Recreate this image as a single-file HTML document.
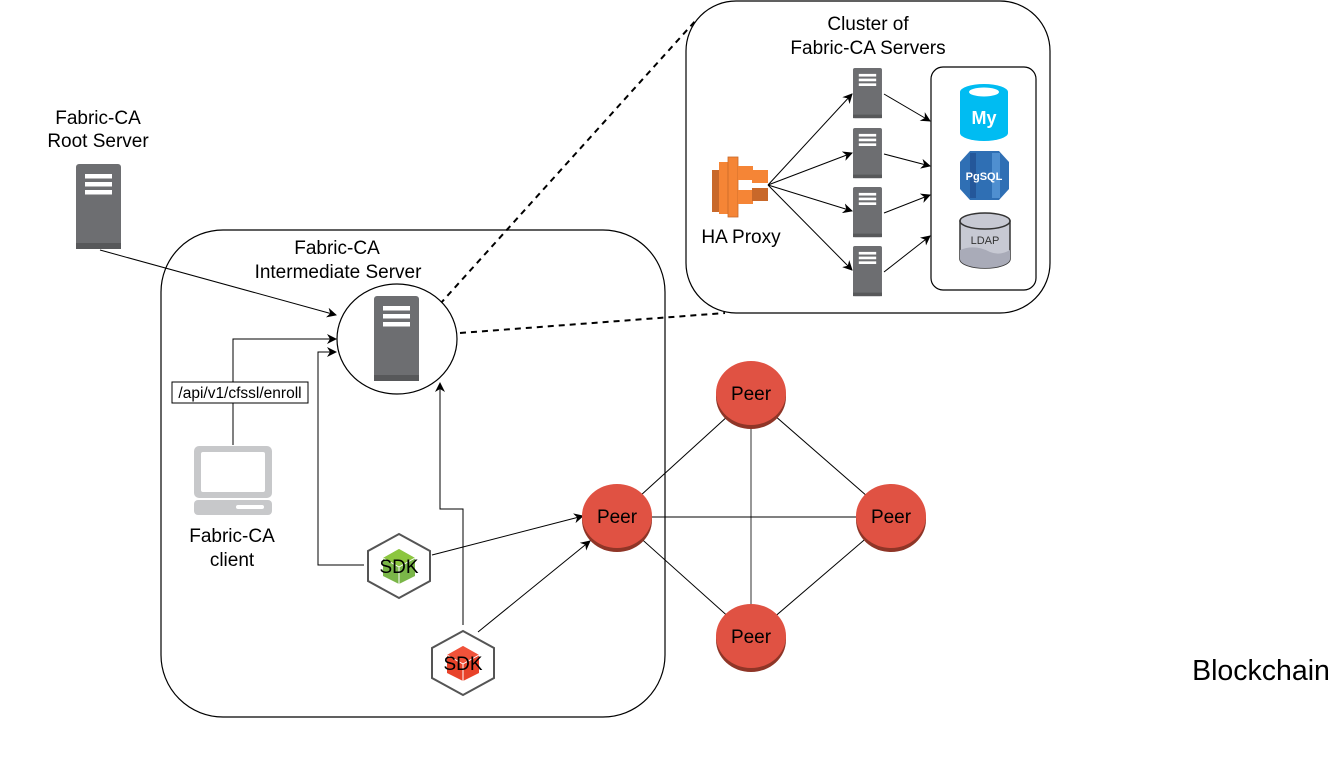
<!DOCTYPE html>
<html><head><meta charset="utf-8"><style>
html,body{margin:0;padding:0;background:#fff}
svg{display:block}
text{font-family:"Liberation Sans",Arial,sans-serif;fill:#000}
</style></head><body>
<svg width="1332" height="762" viewBox="0 0 1332 762" xmlns="http://www.w3.org/2000/svg">
<defs>
<marker id="ar" viewBox="0 0 10 10" refX="9" refY="5" markerWidth="10" markerHeight="10" orient="auto" markerUnits="userSpaceOnUse">
<path d="M0,0 L10,5 L0,10 L3,5 z" fill="#000"/></marker>
<g id="srv">
<rect x="0" y="0" width="45" height="85" rx="3" fill="#6d6e71"/>
<rect x="0" y="79" width="45" height="6" fill="#57585a"/>
<rect x="9" y="10" width="27" height="4.5" fill="#fff"/>
<rect x="9" y="18" width="27" height="4.5" fill="#fff"/>
<rect x="9" y="26" width="27" height="4.5" fill="#fff"/>
</g>
<g id="peer">
<ellipse cx="0" cy="4" rx="35" ry="32" fill="#8f3527"/>
<ellipse cx="0" cy="0" rx="35" ry="32" fill="#e05243"/>
<text x="0" y="7" font-size="19" text-anchor="middle">Peer</text>
</g>
</defs>

<rect x="161" y="230" width="504" height="487" rx="62" fill="none" stroke="#000" stroke-width="1.2"/>
<rect x="686" y="1" width="364" height="312" rx="50" fill="#fff" stroke="#000" stroke-width="1.2"/>
<rect x="931" y="67" width="105" height="223" rx="12" fill="none" stroke="#000" stroke-width="1.2"/>

<text x="98" y="124" font-size="19" text-anchor="middle">Fabric-CA</text>
<text x="98" y="147" font-size="19" text-anchor="middle">Root Server</text>
<text x="337" y="254" font-size="19" text-anchor="middle">Fabric-CA</text>
<text x="338" y="278" font-size="19" text-anchor="middle">Intermediate Server</text>
<text x="868" y="30" font-size="19" text-anchor="middle">Cluster of</text>
<text x="868" y="54" font-size="19" text-anchor="middle">Fabric-CA Servers</text>
<text x="741" y="243" font-size="19" text-anchor="middle">HA Proxy</text>
<text x="232" y="542" font-size="19" text-anchor="middle">Fabric-CA</text>
<text x="232" y="566" font-size="19" text-anchor="middle">client</text>
<text x="1261" y="680" font-size="28.5" text-anchor="middle">Blockchain</text>

<use href="#srv" x="76" y="164"/>
<line x1="100" y1="250" x2="336" y2="315" stroke="#000" marker-end="url(#ar)"/>

<line x1="440" y1="304" x2="697" y2="19" stroke="#000" stroke-width="2" stroke-dasharray="6,5"/>
<line x1="460" y1="333" x2="725" y2="313" stroke="#000" stroke-width="2" stroke-dasharray="6,5"/>

<ellipse cx="397" cy="339" rx="60" ry="55" fill="#fff" stroke="#000" stroke-width="1.2"/>
<use href="#srv" x="374" y="296"/>

<polyline points="233,445 233,339 336,339" fill="none" stroke="#000" marker-end="url(#ar)"/>
<rect x="172" y="382" width="136" height="21" fill="#fff" stroke="#000"/>
<text x="240" y="398" font-size="15.5" text-anchor="middle">/api/v1/cfssl/enroll</text>

<rect x="194" y="446" width="78" height="52" rx="5" fill="#c7c8ca"/>
<rect x="201" y="452" width="64" height="40" rx="2" fill="#fff"/>
<rect x="194" y="500" width="78" height="15" rx="4" fill="#c7c8ca"/>
<rect x="236" y="505" width="28" height="4" rx="2" fill="#fff"/>

<polyline points="364,565 318,565 318,352 336,352" fill="none" stroke="#000" marker-end="url(#ar)"/>
<polyline points="463,625 463,509 440,509 440,383" fill="none" stroke="#000" marker-end="url(#ar)"/>
<line x1="432" y1="555" x2="583" y2="516" stroke="#000" marker-end="url(#ar)"/>
<line x1="478" y1="632" x2="590" y2="541" stroke="#000" marker-end="url(#ar)"/>

<g transform="translate(399,566)">
<polygon points="0,-17 16,-8 16,10 0,18 -16,10 -16,-8" fill="#7ab648"/>
<polygon points="0,-17 16,-8 0,1 -16,-8" fill="#8cc63f"/>
<path d="M0,1 L0,32 M0,1 L16,-8 M0,1 L-16,-8" stroke="#fff" stroke-width="1"/>
<polygon points="0,-32 31,-15 31,15 0,32 -31,15 -31,-15" fill="none" stroke="#555" stroke-width="2"/>
<text x="0" y="7" font-size="19" text-anchor="middle">SDK</text>
</g>
<g transform="translate(463,663)">
<polygon points="0,-17 16,-8 16,10 0,18 -16,10 -16,-8" fill="#e8432a"/>
<polygon points="0,-17 16,-8 0,1 -16,-8" fill="#f0523a"/>
<path d="M0,1 L0,32 M0,1 L16,-8 M0,1 L-16,-8" stroke="#fff" stroke-width="1"/>
<polygon points="0,-32 31,-15 31,15 0,32 -31,15 -31,-15" fill="none" stroke="#555" stroke-width="2"/>
<text x="0" y="7" font-size="19" text-anchor="middle">SDK</text>
</g>

<g stroke="#000" stroke-width="1">
<line x1="751" y1="395" x2="617" y2="517"/>
<line x1="751" y1="395" x2="891" y2="517"/>
<line x1="751" y1="395" x2="751" y2="637" stroke="#777" stroke-width="1.5"/>
<line x1="617" y1="517" x2="891" y2="517"/>
<line x1="617" y1="517" x2="751" y2="637"/>
<line x1="891" y1="517" x2="751" y2="637"/>
</g>
<use href="#peer" x="751" y="393"/>
<use href="#peer" x="617" y="516"/>
<use href="#peer" x="891" y="516"/>
<use href="#peer" x="751" y="636"/>

<g>
<rect x="712" y="170" width="8" height="42" fill="#c8682a"/>
<rect x="719" y="162" width="10" height="52" fill="#f58536"/>
<rect x="728" y="157" width="10" height="60" fill="#f58536" stroke="#c8682a" stroke-width="0.8"/>
<rect x="738" y="166" width="15" height="14" fill="#f58536"/>
<rect x="738" y="190" width="15" height="14" fill="#f58536"/>
<rect x="752" y="170" width="16" height="13" fill="#f58536"/>
<rect x="752" y="188" width="16" height="13" fill="#c8682a"/>
</g>

<g transform="translate(853,68) scale(0.644,0.59)"><use href="#srv"/></g>
<g transform="translate(853,128) scale(0.644,0.59)"><use href="#srv"/></g>
<g transform="translate(853,187) scale(0.644,0.59)"><use href="#srv"/></g>
<g transform="translate(853,246) scale(0.644,0.59)"><use href="#srv"/></g>
<g stroke="#000" fill="none">
<line x1="768" y1="185" x2="852" y2="94" marker-end="url(#ar)"/>
<line x1="768" y1="185" x2="852" y2="153" marker-end="url(#ar)"/>
<line x1="768" y1="185" x2="852" y2="211" marker-end="url(#ar)"/>
<line x1="768" y1="185" x2="852" y2="270" marker-end="url(#ar)"/>
<line x1="884" y1="94" x2="930" y2="121" marker-end="url(#ar)"/>
<line x1="884" y1="154" x2="930" y2="166" marker-end="url(#ar)"/>
<line x1="884" y1="213" x2="930" y2="195" marker-end="url(#ar)"/>
<line x1="884" y1="272" x2="930" y2="236" marker-end="url(#ar)"/>
</g>

<path d="M960,92 L960,133 A24,8 0 0 0 1008,133 L1008,92 Z" fill="#00bcf2"/>
<ellipse cx="984" cy="92" rx="24" ry="8" fill="#00bcf2"/>
<ellipse cx="984" cy="92" rx="15" ry="4.5" fill="#fff"/>
<text x="984" y="124" font-size="18" font-weight="bold" text-anchor="middle" style="fill:#fff">My</text>
<polygon points="970,151 999,151 1009,162 1009,189 999,200 970,200 960,189 960,162" fill="#2f6fb4"/>
<rect x="992" y="153" width="8" height="45" fill="#4f8fd0"/>
<rect x="970" y="153" width="6" height="45" fill="#24579a"/>
<text x="984" y="180" font-size="11" font-weight="bold" text-anchor="middle" style="fill:#fff">PgSQL</text>
<path d="M960,221 L960,259 A25,9 0 0 0 1010,259 L1010,221 Z" fill="#c7c9d3" stroke="#333" stroke-width="1.5"/>
<path d="M960,250 Q975,244 990,252 Q1000,256 1010,250 L1010,259 A25,9 0 0 1 960,259 Z" fill="#a9abb8"/>
<ellipse cx="985" cy="221" rx="25" ry="8" fill="#c7c9d3" stroke="#333" stroke-width="1.5"/>
<text x="985" y="244" font-size="11" text-anchor="middle" style="fill:#333">LDAP</text>
</svg>
</body></html>
